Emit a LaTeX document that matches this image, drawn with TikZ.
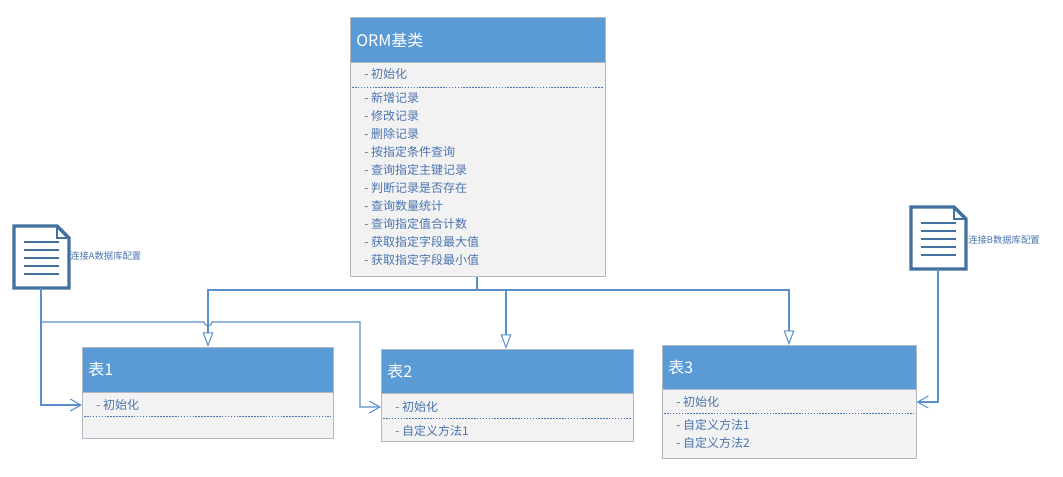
\documentclass[tikz,border=0pt]{standalone}
\usepackage{fontspec}
\setmainfont{Noto Sans CJK SC}
\usetikzlibrary{arrows.meta}
\definecolor{hdr}{HTML}{5B9BD5}
\definecolor{bdy}{HTML}{F2F2F2}
\definecolor{brd}{HTML}{B0B8C4}
\definecolor{txt}{HTML}{4A74B0}
\definecolor{ln}{HTML}{5B8FCB}
\definecolor{doc}{HTML}{41719C}
\tikzset{
 hdrbox/.style={fill=hdr,draw=brd},
 bdybox/.style={fill=bdy,draw=brd},
 title/.style={anchor=west,text=white,font=\fontsize{12}{13}\selectfont,inner sep=0},
 item/.style={anchor=west,text=txt,font=\fontsize{9}{10}\selectfont,inner sep=0},
 sep/.style={draw=txt,dashed,dash pattern=on 1.2pt off 1pt,line width=0.5pt},
 inh/.style={draw=ln,line width=0.8pt,-{Triangle[open,length=11pt,width=8pt]}},
 dep/.style={draw=ln,line width=0.8pt,-{Straight Barb[length=8pt,width=9pt]}},
 lbl/.style={anchor=west,text=txt,font=\fontsize{7}{8}\selectfont,inner sep=0},
}
\begin{document}
\begin{tikzpicture}[x=0.75pt,y=-0.75pt]
\useasboundingbox (0,0) rectangle (1063,477);
% ORM
\node[bdybox,minimum width=255*0.75pt,minimum height=214*0.75pt,anchor=north west,inner sep=0] (ormb) at (350,62) {};
\node[hdrbox,minimum width=255*0.75pt,minimum height=45*0.75pt,anchor=north west,inner sep=0] (orm) at (350,17) {};
\node[title] (ormt) at (356,40) {ORM基类};
\node[item] (o0) at (364,74) {- 初始化};
\draw[sep] (352,87) -- (603,87);
\foreach \t [count=\i] in {新增记录,修改记录,删除记录,按指定条件查询,查询指定主键记录,判断记录是否存在,查询数量统计,查询指定值合计数,获取指定字段最大值,获取指定字段最小值}
 \node[item] (o\i) at (364,80+18*\i) {- \t};
% Table1
\node[bdybox,minimum width=251*0.75pt,minimum height=46*0.75pt,anchor=north west,inner sep=0] (t1b) at (82,392) {};
\node[hdrbox,minimum width=251*0.75pt,minimum height=45*0.75pt,anchor=north west,inner sep=0] (t1) at (82,347) {};
\node[title] (t1t) at (88,369) {表1};
\node[item] (t1i) at (96,405) {- 初始化};
\draw[sep] (84,416) -- (331,416);
% Table2
\node[bdybox,minimum width=252*0.75pt,minimum height=48*0.75pt,anchor=north west,inner sep=0] (t2b) at (381,393) {};
\node[hdrbox,minimum width=252*0.75pt,minimum height=44*0.75pt,anchor=north west,inner sep=0] (t2) at (381,349) {};
\node[title] (t2t) at (387,371) {表2};
\node[item] (t2i) at (395,407) {- 初始化};
\draw[sep] (383,418) -- (631,418);
\node[item] (t2m) at (395,431) {- 自定义方法1};
% Table3
\node[bdybox,minimum width=254*0.75pt,minimum height=69*0.75pt,anchor=north west,inner sep=0] (t3b) at (662,389) {};
\node[hdrbox,minimum width=254*0.75pt,minimum height=44*0.75pt,anchor=north west,inner sep=0] (t3) at (662,345) {};
\node[title] (t3t) at (668,367) {表3};
\node[item] (t3i) at (676,402) {- 初始化};
\draw[sep] (664,413) -- (914,413);
\node[item] (t3m1) at (676,425) {- 自定义方法1};
\node[item] (t3m2) at (676,443) {- 自定义方法2};
% docs
\foreach \n/\x/\y in {da/14/226,db/911/207}{
 \draw[doc,line width=2.6pt,fill=white,line join=miter] (\x,\y) -- (\x+43,\y) -- (\x+55,\y+12) -- (\x+55,\y+62) -- (\x,\y+62) -- cycle;
 \draw[doc,line width=1pt] (\x+43,\y) -- (\x+43,\y+12) -- (\x+55,\y+12);
 \foreach \k in {0,...,4} \draw[doc,line width=0.8pt] (\x+10,\y+16+8*\k) -- (\x+45,\y+16+8*\k);
 \coordinate (\n) at (\x+27,\y+62);
}
\node[lbl] (la) at (70,256) {连接A数据库配置};
\node[lbl] (lb) at (968,240) {连接B数据库配置};
% inheritance
\coordinate (hub) at (477,290);
\draw[ln,line width=0.8pt] (ormb.south -| hub) -- (hub);
\draw[inh] (hub) -| (t1.north -| 208,0);
\draw[inh] (hub) -| (t2.north -| 506,0);
\draw[inh] (hub) -| (t3.north -| 789,0);
% dependencies
\draw[dep] (da) |- (t1i.west -| t1.west);
\draw[dep] (41,322) -- (204,322) arc[start angle=180,end angle=0,radius=4] -- (360,322) |- (t2i.west -| t2.west);
\draw[dep] (db) |- (t3i.west -| t3.east);
\end{tikzpicture}
\end{document}
